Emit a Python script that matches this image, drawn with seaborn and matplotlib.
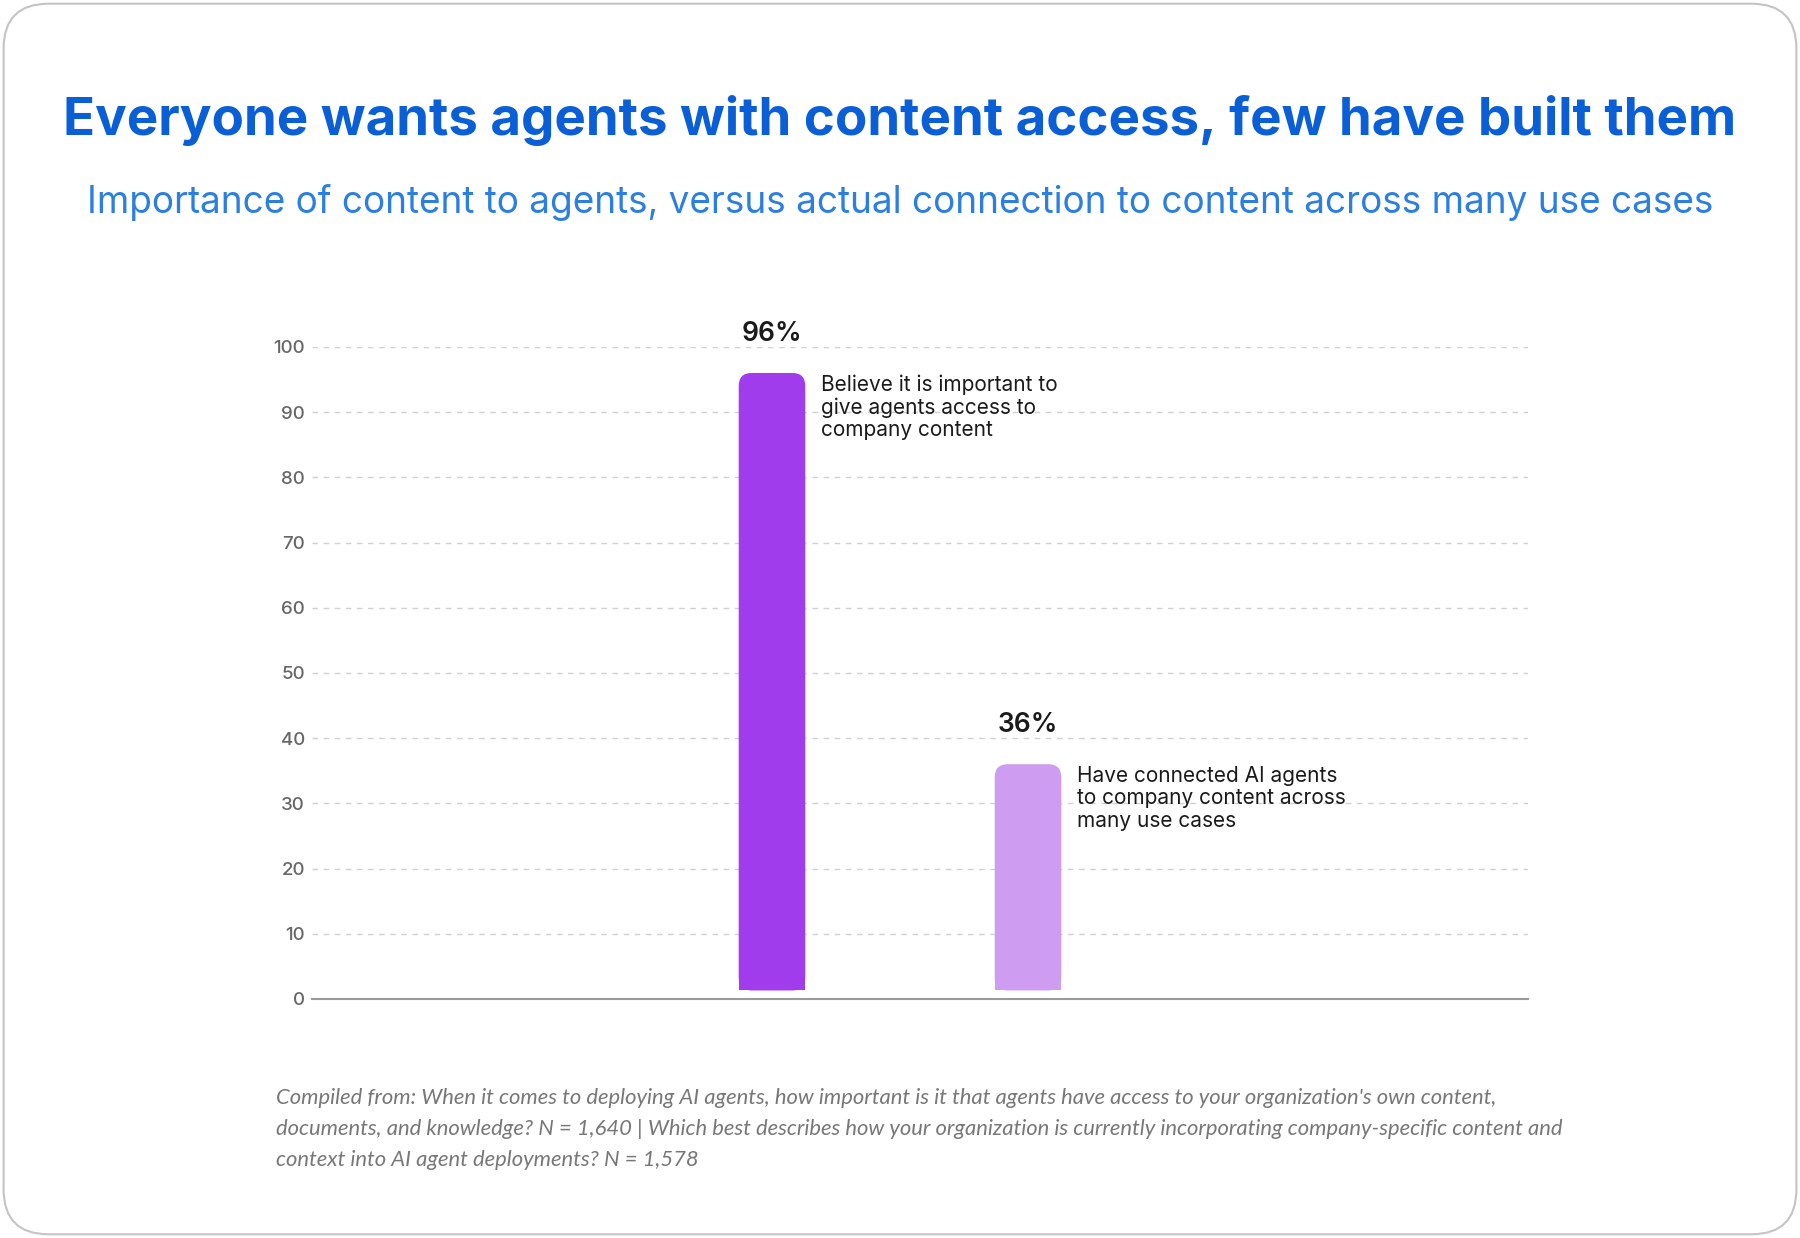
import matplotlib
matplotlib.use("Agg")
import matplotlib.pyplot as plt
import seaborn as sns
import pandas as pd
from matplotlib.patches import FancyBboxPatch, Rectangle

# data
groups = ["Important", "Connected"]
values = [96, 36]
value_labels = ["96%", "36%"]
notes = ["Believe it is important to\ngive agents access to\ncompany content",
         "Have connected AI agents\nto company content across\nmany use cases"]
bar_colors = ["#A03CEB", "#CE9DF2"]
yticks = [0, 10, 20, 30, 40, 50, 60, 70, 80, 90, 100]

title = "Everyone wants agents with content access, few have built them"
subtitle = "Importance of content to agents, versus actual connection to content across many use cases"
footnote = ("Compiled from: When it comes to deploying AI agents, how important is it that agents have access to your organization's own content,\n"
            "documents, and knowledge? N = 1,640 | Which best describes how your organization is currently incorporating company-specific content and\n"
            "context into AI agent deployments? N = 1,578")

df = pd.DataFrame({"group": groups, "value": values})

sns.set_style("white")
plt.rcParams['font.family'] = ['Inter', 'DejaVu Sans']

fig = plt.figure(figsize=(18, 12.38), dpi=100)
fig.patch.set_facecolor("white")

# card border
card = FancyBboxPatch((0.002, 0.003), 0.996, 0.994, transform=fig.transFigure,
                      boxstyle="round,pad=0,rounding_size=0.025", mutation_aspect=1800 / 1238,
                      facecolor="none", edgecolor="#c4c4c4", linewidth=1.5, zorder=-1)
fig.patches.append(card)

ax = fig.add_axes([0.1733, 0.1931, 0.6756, 0.5267])
ax.set_facecolor("none")
sns.barplot(data=df, x="group", y="value", hue="group", palette=bar_colors,
            width=0.26, legend=False, ax=ax)

ax.set_xlim(-1.797, 2.953)
ax.set_ylim(0, 100)

# rounded tops instead of plain bars
px_x = 1216 / (2.953 + 1.797)
px_y = 652 / 100
aspect = px_x / px_y
gap = 1.3
for p, c in zip(list(ax.patches), bar_colors):
    x, w, h = p.get_x(), p.get_width(), p.get_height()
    p.remove()
    r = 13 / px_x
    ax.add_patch(FancyBboxPatch((x, gap), w, h - gap, boxstyle=f"round,pad=0,rounding_size={r}",
                                mutation_aspect=aspect, facecolor=c, edgecolor="none", zorder=3))
    ax.add_patch(Rectangle((x, gap), w, (h - gap) * 0.8, facecolor=c, edgecolor="none",
                           linewidth=0, zorder=3))

for i, (v, lab, note) in enumerate(zip(values, value_labels, notes)):
    ax.text(i, v + 6.0, lab, ha="center", va="center", fontsize=19, fontweight="semibold",
            color="#1a1a1a", clip_on=False)
    ax.text(i + 0.13 + 16 / px_x, v - 0.2, note, ha="left", va="top", fontsize=15,
            color="#1a1a1a", linespacing=1.16, clip_on=False)

ax.set_yticks(yticks)
ax.set_xticks([])
ax.set_xlabel("")
ax.set_ylabel("")
ax.tick_params(axis="y", length=0, pad=5, labelsize=13.5, labelcolor="#666666")
for t in ax.get_yticklabels():
    t.set_fontweight("medium")
ax.grid(axis="y", linestyle=(0, (4, 4)), color="#d0d0d0", linewidth=1)
ax.set_axisbelow(True)
for s in ["top", "right", "left"]:
    ax.spines[s].set_visible(False)
ax.spines["bottom"].set_color("#999999")
ax.spines["bottom"].set_linewidth(1.5)
ax.spines["bottom"].set_zorder(4)

fig.text(0.5, 1 - 120 / 1238, title, ha="center", va="center", fontsize=38,
         fontweight="bold", color="#0a5fd6")
fig.text(0.5, 1 - 203 / 1238, subtitle, ha="center", va="center", fontsize=26.6,
         color="#2b7fe0")
fig.text(276 / 1800, 1 - 1088 / 1238, footnote, ha="left", va="top", fontsize=15.8,
         color="#777777", style="italic", family=["Lato", "DejaVu Sans"], linespacing=1.68)

fig.savefig("out.png", dpi=100)
